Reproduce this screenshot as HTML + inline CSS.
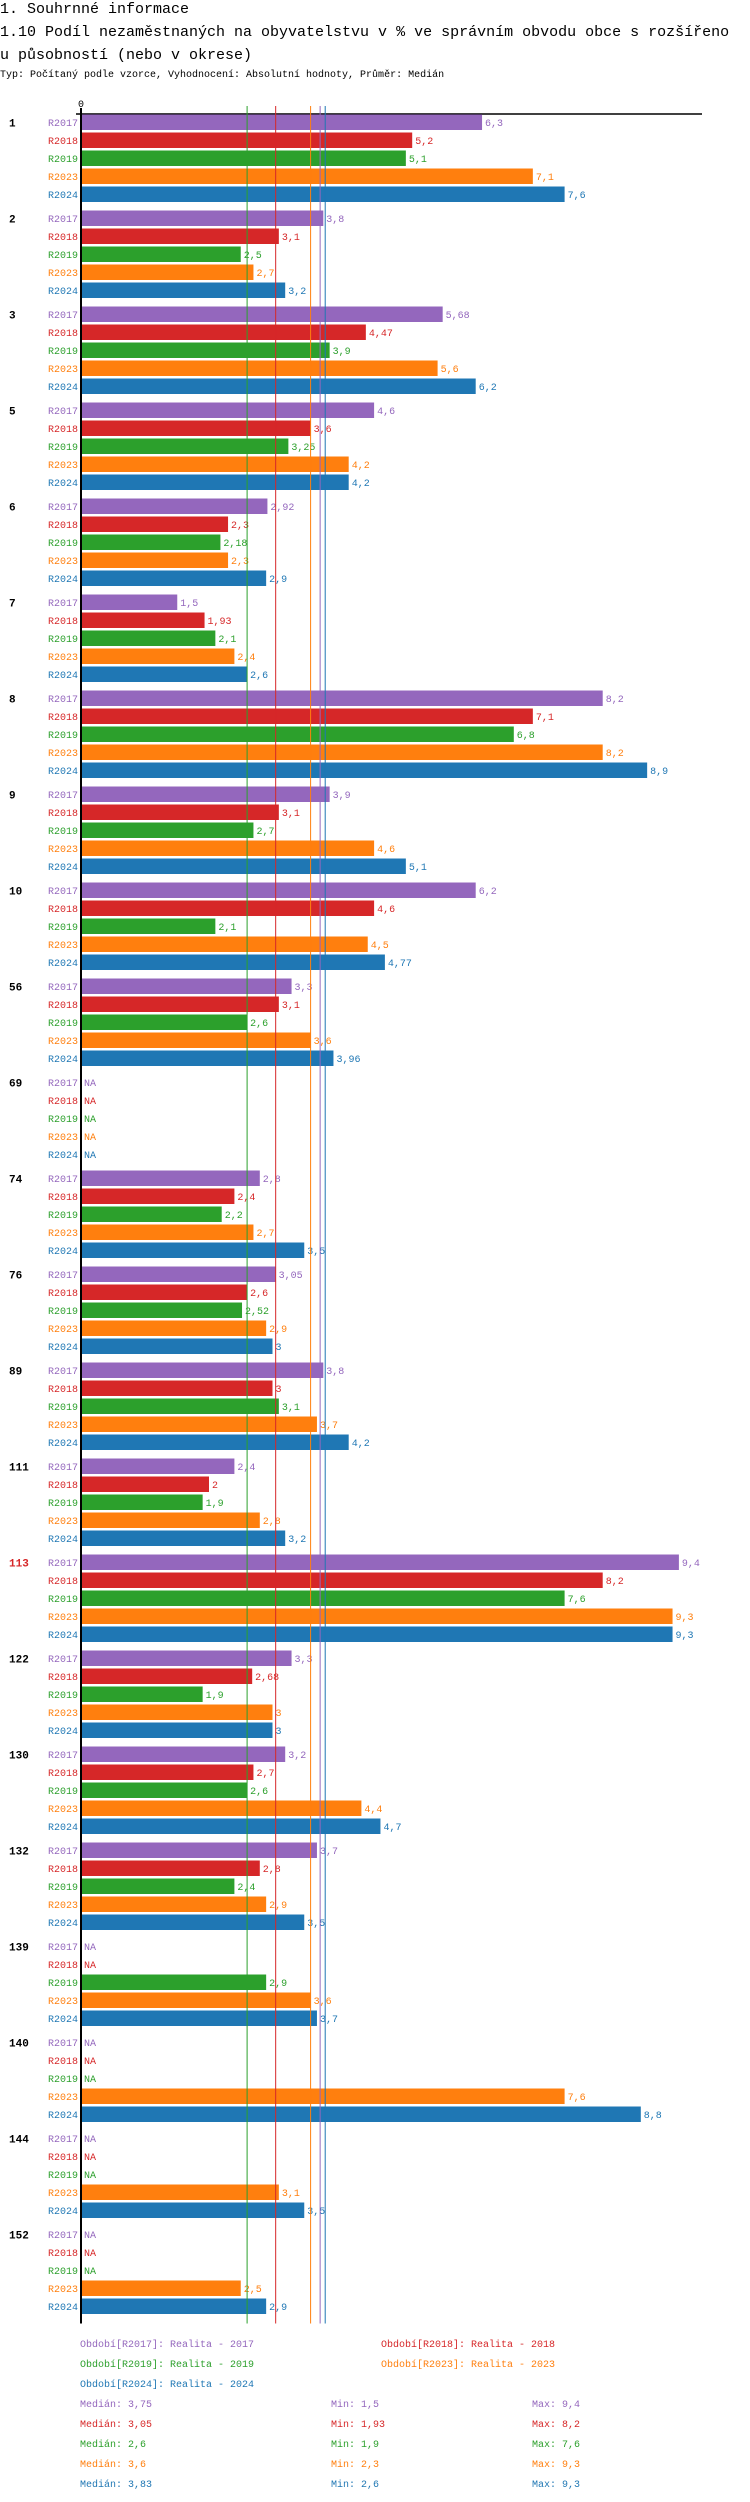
<!DOCTYPE html>
<html><head><meta charset="utf-8">
<style>
body{margin:0;background:#fff;width:750px;height:2502px;overflow:hidden;font-family:"Liberation Mono",monospace}
svg{position:absolute;left:0;top:0}
</style></head>
<body>
<svg id="chart" width="750" height="2502" xmlns="http://www.w3.org/2000/svg">
<text x="0" y="13" font-size="15" fill="#000">1. Souhrnné informace</text>
<text x="0" y="36" font-size="15" fill="#000">1.10 Podíl nezaměstnaných na obyvatelstvu v % ve správním obvodu obce s rozšířeno</text>
<text x="0" y="59" font-size="15" fill="#000">u působností (nebo v okrese)</text>
<text x="0" y="77" font-size="10" fill="#000">Typ: Počítaný podle vzorce, Vyhodnocení: Absolutní hodnoty, Průměr: Medián</text>
</svg>
<script>
const groups=["1","2","3","5","6","7","8","9","10","56","69","74","76","89","111","113","122","130","132","139","140","144","152"];
const series=["R2017","R2018","R2019","R2023","R2024"];
const colors=["#9467bd","#d62728","#2ca02c","#ff7f0e","#1f77b4"];
const v2017=[6.3,3.8,5.68,4.6,2.92,1.5,8.2,3.9,6.2,3.3,null,2.8,3.05,3.8,2.4,9.4,3.3,3.2,3.7,null,null,null,null];
const v2018=[5.2,3.1,4.47,3.6,2.3,1.93,7.1,3.1,4.6,3.1,null,2.4,2.6,3,2,8.2,2.68,2.7,2.8,null,null,null,null];
const v2019=[5.1,2.5,3.9,3.25,2.18,2.1,6.8,2.7,2.1,2.6,null,2.2,2.52,3.1,1.9,7.6,1.9,2.6,2.4,2.9,null,null,null];
const v2023=[7.1,2.7,5.6,4.2,2.3,2.4,8.2,4.6,4.5,3.6,null,2.7,2.9,3.7,2.8,9.3,3,4.4,2.9,3.6,7.6,3.1,2.5];
const v2024=[7.6,3.2,6.2,4.2,2.9,2.6,8.9,5.1,4.77,3.96,null,3.5,3,4.2,3.2,9.3,3,4.7,3.5,3.7,8.8,3.5,2.9];
const medians=[3.75,3.05,2.6,3.6,3.83];
const mins=[1.5,1.93,1.9,2.3,2.6];
const maxs=[9.4,8.2,7.6,9.3,9.3];
const seriesNames=["Realita - 2017","Realita - 2018","Realita - 2019","Realita - 2023","Realita - 2024"];
const highlight="113";

const vals=[v2017,v2018,v2019,v2023,v2024];
const svg=document.getElementById('chart');
const NS="http://www.w3.org/2000/svg";
const x0=82,k=63.5;
const xs=v=>x0+v*k;
const yTop=(g,i)=>114.5+96*g+18*i;
const fmt=v=>String(v).replace('.',',');
function mk(tag,attrs,txt){const e=document.createElementNS(NS,tag);for(const a in attrs)e.setAttribute(a,attrs[a]);if(txt!==undefined)e.textContent=txt;svg.appendChild(e);return e;}
const bottom=yTop(groups.length-1,4)+25;
// axis
let e=mk('line',{x1:76,y1:114,x2:702,y2:114,stroke:'#000','stroke-width':1.5});


e=mk('text',{x:78,y:107,'font-size':10,fill:'#000'},'0');


// bars
groups.forEach((g,gi)=>{
  e=mk('text',{x:9,y:yTop(gi,0)+12,'font-size':11,'font-weight':'bold',fill:g===highlight?'#d62728':'#000'},g);
  
  
  series.forEach((s,si)=>{
    const y=yTop(gi,si),v=vals[si][gi];
    e=mk('text',{x:78,y:y+11.5,'font-size':10,fill:colors[si],'text-anchor':'end'},s);
    
    
    if(v===null){
      e=mk('text',{x:84,y:y+11.5,'font-size':10,fill:colors[si]},'NA');
      
      
    }else{
      e=mk('rect',{x:x0,y:y,width:xs(v)-x0,height:15.5,fill:colors[si]});
      
      
      e=mk('text',{x:xs(v)+3,y:y+11.5,'font-size':10,fill:colors[si]},fmt(v));
      
      
    }
  });
});
// median lines
medians.forEach((m,i)=>{
  e=mk('line',{x1:xs(m),y1:106,x2:xs(m),y2:bottom,stroke:colors[i],'stroke-width':1});
  
  
});
e=mk('line',{x1:81,y1:108,x2:81,y2:bottom,stroke:'#000','stroke-width':2});


// legend
const legPos=[[80,2347],[381,2347],[80,2367],[381,2367],[80,2387]];
series.forEach((s,i)=>{
  e=mk('text',{x:legPos[i][0],y:legPos[i][1],'font-size':10,fill:colors[i]},'Období['+s+']: '+seriesNames[i]);
  
  
  const y=2407+20*i;
  e=mk('text',{x:80,y:y,'font-size':10,fill:colors[i]},'Medián: '+fmt(medians[i]));
  
  
  e=mk('text',{x:331,y:y,'font-size':10,fill:colors[i]},'Min: '+fmt(mins[i]));
  
  
  e=mk('text',{x:532,y:y,'font-size':10,fill:colors[i]},'Max: '+fmt(maxs[i]));
  
  
});
</script>
</body></html>
